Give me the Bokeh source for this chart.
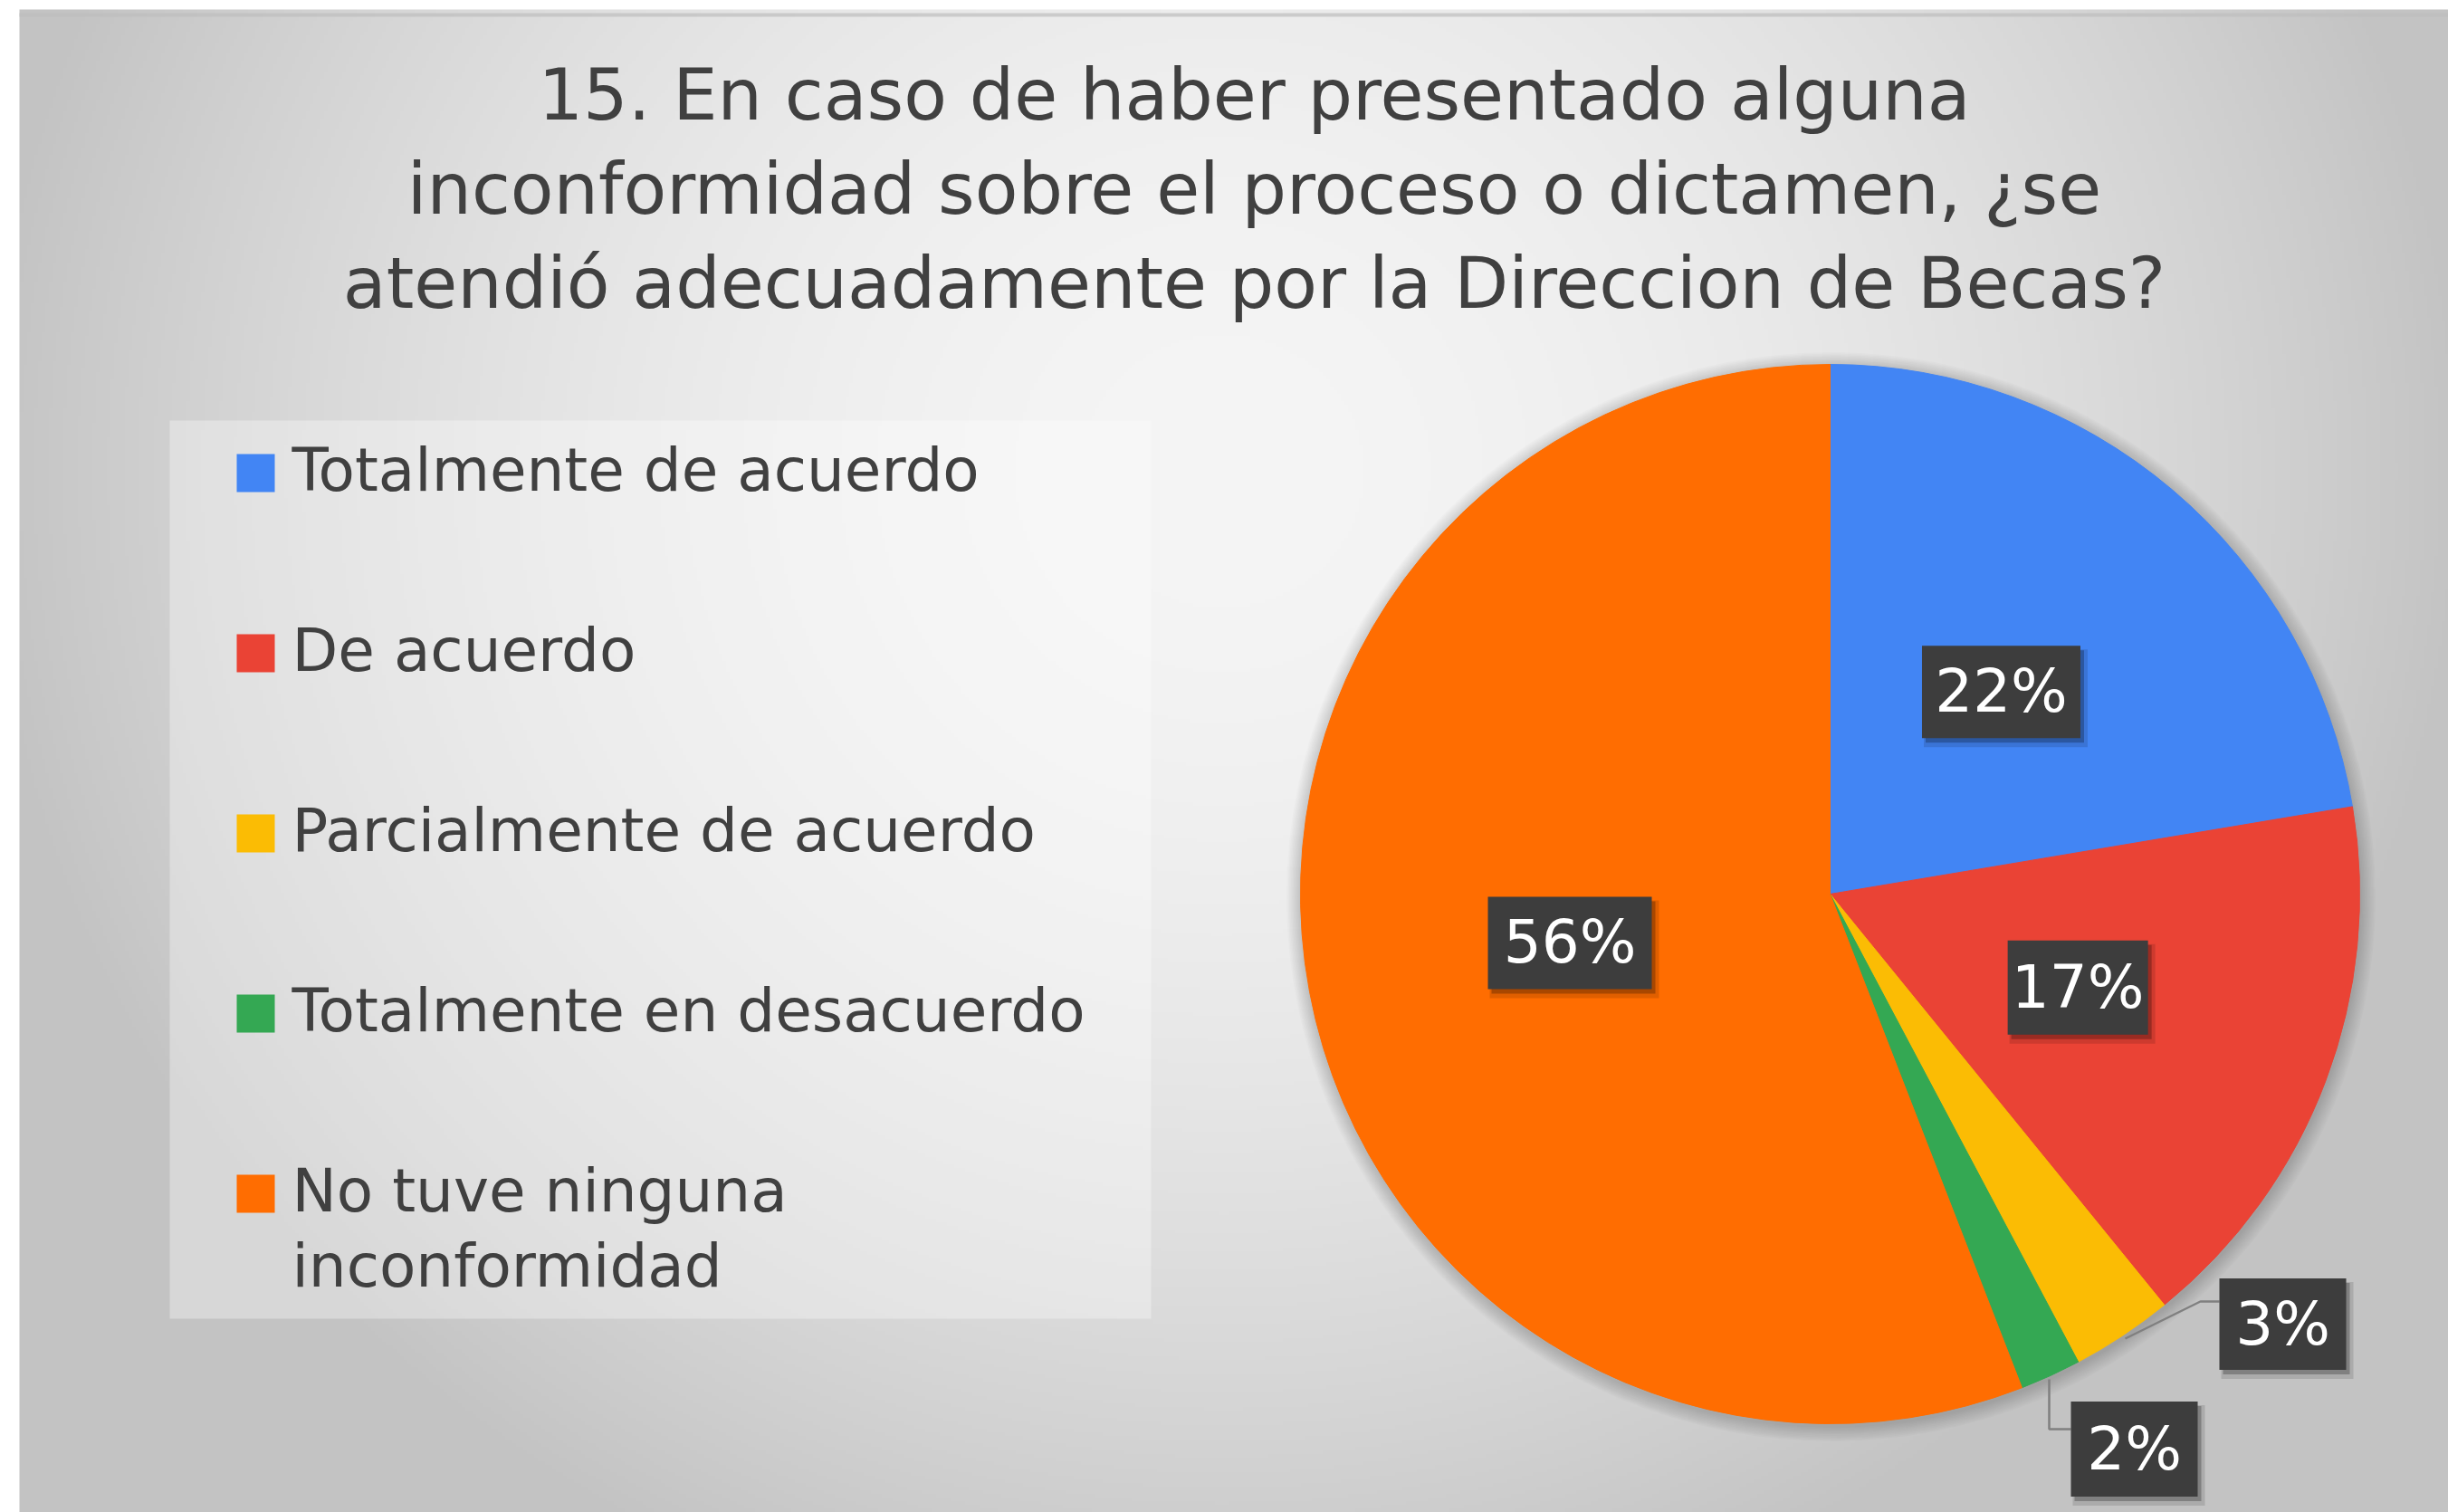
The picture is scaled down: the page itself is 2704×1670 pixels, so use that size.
import numpy as np
from bokeh.plotting import figure
from bokeh.models import Range1d
from bokeh.core.properties import value
from bokeh.embed import file_html
from bokeh.resources import INLINE

# ---------------- data ----------------
categories = ["Totalmente de acuerdo", "De acuerdo", "Parcialmente de acuerdo",
              "Totalmente en desacuerdo", "No tuve ninguna\ninconformidad"]
counts = [36, 27, 5, 3, 90]
colors = ["#4285F4", "#EA4335", "#FBBC04", "#34A853", "#FF6D01"]
title_lines = ["15. En caso de haber presentado alguna",
               "inconformidad sobre el proceso o dictamen, ¿se",
               "atendió adecuadamente por la Direccion de Becas?"]

# ---------------- layout (page pixels) ----------------
W, H = 2704, 1670
def X(rx): return rx
def Y(ry): return H - ry

FONT = "DejaVu Sans"
TEXT_COL = "#404040"
TITLE_FS, LEG_FS, LAB_FS = 78, 66, 66
BASE_FIX = 0.37                      # renderer baseline correction (fraction of font size)
CX, CY, R = 2021, 987, 585          # pie centre / radius (page px)
label_box_w = [175, 155, 140, 140, 181]
label_box_h = [102, 104, 101, 105, 102]
outer = {2: (2521, 1462), 3: (2357, 1600)}  # outside labels centres
leaders = {2: [(2347, 1478), (2430, 1437), (2451, 1437)],
           3: [(2263, 1523), (2263, 1578), (2287, 1578)]}

p = figure(width=W, height=H, x_range=Range1d(0, W), y_range=Range1d(0, H),
           output_backend="svg", toolbar_location=None, min_border=0)
p.axis.visible = False
p.xgrid.visible = False
p.ygrid.visible = False
p.outline_line_color = None
p.background_fill_color = "white"
p.border_fill_color = "white"

# ---------------- background gradient ----------------
x0, x1 = X(21), W
y0, y1 = 0, Y(14)
step = 4
nx = int((x1 - x0) / step) + 1
ny = int((y1 - y0) / step) + 1
gx = x0 + (np.arange(nx) + 0.5) * step
gy = H - (y0 + (np.arange(ny) + 0.5) * step)     # page ry (row 0 at bottom)
RX, RY = np.meshgrid(gx, gy)
d = np.sqrt(((RX - 1350) / 1450.0) ** 2 + ((RY - 520) / 1400.0) ** 2)
g = (0xf5 - np.minimum(55 * d ** 1.8, 50)).astype(np.uint8)
img = np.empty((ny, nx), dtype=np.uint32)
view = img.view(dtype=np.uint8).reshape((ny, nx, 4))
view[..., 0] = g
view[..., 1] = g
view[..., 2] = g
view[..., 3] = 255
p.image_rgba(image=[img], x=x0, y=y0, dw=nx * step, dh=ny * step)
p.quad(left=x0, right=x1, top=y1, bottom=y1 - 4, fill_color="#bdbdbd", fill_alpha=0.7, line_color=None)

# ---------------- title ----------------
for i, line in enumerate(title_lines):
    p.text(x=[X(1385)], y=[Y(133 + 104 * i - BASE_FIX * TITLE_FS)], text=[line], text_align="center",
           text_baseline="alphabetic", text_font=value(FONT), text_font_size=f"{TITLE_FS}px",
           text_color=TEXT_COL)

# ---------------- legend ----------------
p.quad(left=X(187), right=X(1271), top=Y(464), bottom=Y(1456),
       fill_color="white", fill_alpha=0.33, line_color=None)
for i, (cat, col) in enumerate(zip(categories, colors)):
    base = 543 + 199 * i
    p.quad(left=X(261), right=X(303), top=Y(base - 42), bottom=Y(base),
           fill_color=col, line_color=None)
    for j, part in enumerate(cat.split("\n")):
        p.text(x=[X(322)], y=[Y(base + 83 * j - BASE_FIX * LEG_FS)], text=[part], text_align="left",
               text_baseline="alphabetic", text_font=value(FONT), text_font_size=f"{LEG_FS}px",
               text_color=TEXT_COL)

# ---------------- pie ----------------
total = float(sum(counts))
fr = np.array(counts) / total
cum = np.concatenate([[0], np.cumsum(fr)])
start = np.pi / 2 - 2 * np.pi * cum[:-1]
end = np.pi / 2 - 2 * np.pi * cum[1:]

# soft shadow
for k in range(1, 12):
    p.circle(x=[X(CX) + 1], y=[Y(CY) - 3], radius=R + k * 1.5, fill_color="black",
             fill_alpha=0.016, line_color=None)

p.wedge(x=X(CX), y=Y(CY), radius=R, start_angle=start, end_angle=end,
        direction="clock", fill_color=colors, line_color=colors, line_width=1)

# ---------------- data labels ----------------
mid = (start + end) / 2
for i in range(len(counts)):
    txt = f"{round(fr[i] * 100):d}%"
    if i in outer:
        lx, ly = X(outer[i][0]), Y(outer[i][1])
        pts = leaders[i]
        p.line(x=[X(a) for a, b in pts], y=[Y(b) for a, b in pts], line_color="#808080", line_width=2.5)
    else:
        lx = X(CX) + 0.5 * R * np.cos(mid[i])
        ly = Y(CY) + 0.5 * R * np.sin(mid[i])
    bw, bh = label_box_w[i], label_box_h[i]
    p.rect(x=[lx + 5], y=[ly - 7], width=bw + 6, height=bh + 6, fill_color="black",
           fill_alpha=0.12, line_color=None)
    p.rect(x=[lx + 4], y=[ly - 5], width=bw, height=bh, fill_color="black",
           fill_alpha=0.25, line_color=None)
    p.rect(x=[lx], y=[ly], width=bw, height=bh, fill_color="#3d3d3d", line_color=None)
    p.text(x=[lx], y=[ly - 24 + BASE_FIX * LAB_FS], text=[txt], text_align="center",
           text_baseline="alphabetic", text_font=value(FONT), text_font_size=f"{LAB_FS}px",
           text_color="white")

open("out.html", "w").write(file_html(p, INLINE))
